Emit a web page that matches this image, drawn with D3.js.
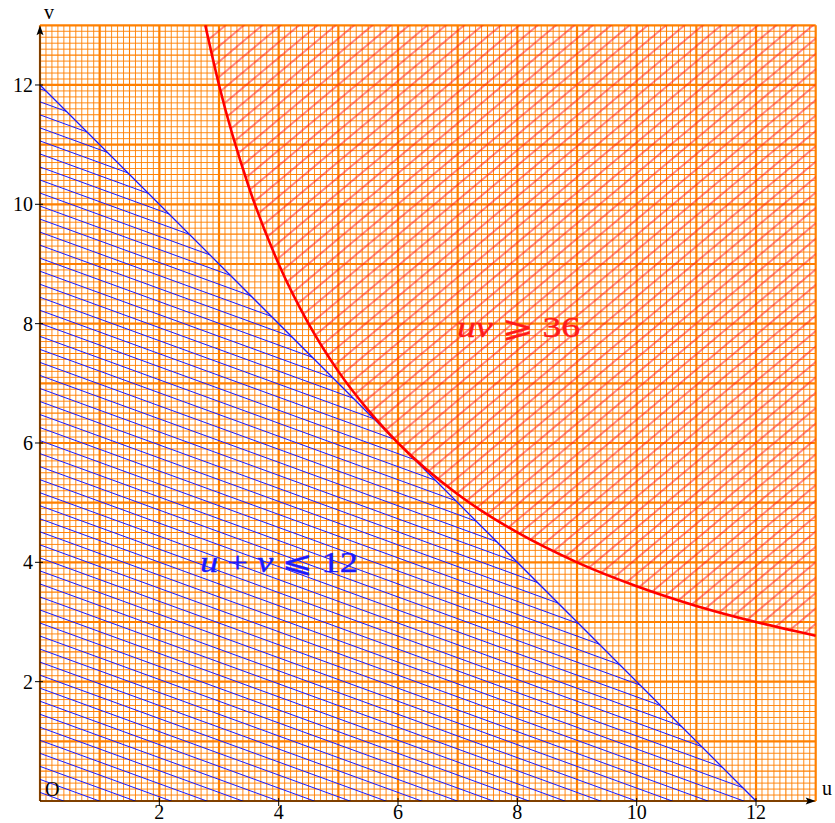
<!DOCTYPE html>
<html>
<head>
<meta charset="utf-8">
<script src="https://cdn.jsdelivr.net/npm/d3@7"></script>
<style>
  body { margin: 0; background: #fff; }
  svg { display: block; }
  text { font-family: "Liberation Serif", "DejaVu Serif", serif; }
</style>
</head>
<body>
<div id="chart"></div>
<script>
// domain of both axes
const uDomain = [0, 13];
const vDomain = [0, 13];
const tickValues = [2, 4, 6, 8, 10, 12];

// constraint u + v <= 12 : corners of the triangle
const sumU = [0, 12, 0];
const sumV = [0, 0, 12];

// constraint u v >= 36 : points
const prodU = [2.77, 3, 3.5, 4, 4.5, 5, 5.5, 6, 7, 8, 9, 10, 11, 12, 13];
const prodV = [13, 12, 10.29, 9, 8, 7.2, 6.55, 6, 5.14, 4.5, 4, 3.6, 3.27, 3, 2.77];

// label text, left edge (u), baseline (v), width in px
const labels = [
    {text: ["u", " + ", "v", " ⩽ 12"], u: 2.68, v: 3.83, len: 158, color: "#1a1aff"},
    {text: ["uv", " ⩾ 36"], u: 6.99, v: 7.78, len: 123, color: "#ff1a1a"}
];

const width = 835, height = 823;
const x = d3.scaleLinear().domain(uDomain).range([40, 815.7]);
const y = d3.scaleLinear().domain(vDomain).range([801, 25.3]);

const svg = d3.select("#chart").append("svg")
    .attr("width", width)
    .attr("height", height);

const defs = svg.append("defs");

// hatch pattern: line through ref point, angle in degrees, perpendicular gap
function hatch(id, angle, gap, color, ref) {
    const a = angle * Math.PI / 180;
    const py = -Math.sin(a) * ref[0] + Math.cos(a) * ref[1];
    const p = defs.append("pattern")
        .attr("id", id)
        .attr("patternUnits", "userSpaceOnUse")
        .attr("width", 40)
        .attr("height", gap)
        .attr("y", py - gap / 2)
        .attr("patternTransform", `rotate(${angle})`);
    p.append("line")
        .attr("x1", -1).attr("x2", 41)
        .attr("y1", gap / 2).attr("y2", gap / 2)
        .attr("stroke", color)
        .attr("stroke-width", 1);
}
hatch("blueHatch", 20, 13.03 * Math.cos(20 * Math.PI / 180), "#1a1aff", [40, 610]);
hatch("redHatch", -40, 11.8, "#ff1a1a", [600, 50]);

// millimetre grid
const fine = d3.range(0, 131).map(d => d / 10);
const grid = svg.append("g");
function gridStyle(d) {
    const n = Math.round(d * 10);
    if (n % 10 === 0) return {w: 2.2, o: 1};
    if (n % 5 === 0) return {w: 1.1, o: 1};
    return {w: 1, o: 0.9};
}
grid.selectAll(".gv").data(fine).join("line")
    .attr("x1", d => x(d)).attr("x2", d => x(d))
    .attr("y1", y(vDomain[0])).attr("y2", y(vDomain[1]))
    .attr("stroke", "#ff8000")
    .attr("stroke-width", d => gridStyle(d).w)
    .attr("stroke-opacity", d => gridStyle(d).o);
grid.selectAll(".gh").data(fine).join("line")
    .attr("y1", d => y(d)).attr("y2", d => y(d))
    .attr("x1", x(uDomain[0])).attr("x2", x(uDomain[1]))
    .attr("stroke", "#ff8000")
    .attr("stroke-width", d => gridStyle(d).w)
    .attr("stroke-opacity", d => gridStyle(d).o);

// blue region
const tri = sumU.map((u, i) => [x(u), y(sumV[i])]);
svg.append("path")
    .attr("d", "M" + tri.join("L") + "Z")
    .attr("fill", "url(#blueHatch)");
svg.append("line")
    .attr("x1", x(sumU[2])).attr("y1", y(sumV[2]))
    .attr("x2", x(sumU[1])).attr("y2", y(sumV[1]))
    .attr("stroke", "#1a1aff")
    .attr("stroke-width", 1.3);

// red region
const curve = d3.line()
    .x(d => x(d[0]))
    .y(d => y(d[1]))
    .curve(d3.curveMonotoneX);
const pts = prodU.map((u, i) => [u, prodV[i]]);
svg.append("path")
    .attr("d", curve(pts) + `L${x(uDomain[1])},${y(vDomain[1])}Z`)
    .attr("fill", "url(#redHatch)");
svg.append("path")
    .attr("d", curve(pts))
    .attr("fill", "none")
    .attr("stroke", "#ff0000")
    .attr("stroke-width", 2.6);

// axes
const axes = svg.append("g").attr("stroke", "#000");
axes.append("line")
    .attr("x1", x(0)).attr("x2", x(13) - 4)
    .attr("y1", y(0)).attr("y2", y(0));
axes.append("line")
    .attr("x1", x(0)).attr("x2", x(0))
    .attr("y1", y(0)).attr("y2", y(13) + 4);
svg.append("path")
    .attr("d", `M${x(13)},${y(0)}l-10,-3.5l2,3.5l-2,3.5z`)
    .attr("fill", "#000");
svg.append("path")
    .attr("d", `M${x(0)},${y(13)}l-3.5,10l3.5,-2l3.5,2z`)
    .attr("fill", "#000");

axes.selectAll(".tx").data(tickValues).join("line")
    .attr("x1", d => x(d)).attr("x2", d => x(d))
    .attr("y1", y(0) - 3).attr("y2", y(0) + 5);
axes.selectAll(".ty").data(tickValues).join("line")
    .attr("y1", d => y(d)).attr("y2", d => y(d))
    .attr("x1", x(0) - 5).attr("x2", x(0) + 3);

svg.selectAll(".lx").data(tickValues).join("text")
    .attr("x", d => x(d))
    .attr("y", 819)
    .attr("text-anchor", "middle")
    .attr("font-size", 20)
    .text(d => d);
svg.selectAll(".ly").data(tickValues).join("text")
    .attr("x", x(0) - 7)
    .attr("y", d => y(d) + 7)
    .attr("text-anchor", "end")
    .attr("font-size", 20)
    .text(d => d);

svg.append("text").attr("x", 822).attr("y", 795).attr("font-size", 20).text("u");
svg.append("text").attr("x", 44).attr("y", 19).attr("font-size", 20).text("v");
svg.append("text").attr("x", 45).attr("y", 796).attr("font-size", 20).text("O");

// region labels
labels.forEach(l => {
    const t = svg.append("text")
        .attr("x", x(l.u))
        .attr("y", y(l.v))
        .attr("font-size", 29)
        .attr("textLength", l.len)
        .attr("lengthAdjust", "spacingAndGlyphs")
        .attr("fill", l.color)
        .attr("stroke", l.color)
        .attr("stroke-width", 0.4);
    l.text.forEach((s, i) => {
        t.append("tspan")
            .attr("font-style", i % 2 === 0 ? "italic" : "normal")
            .text(s);
    });
});
</script>
</body>
</html>
